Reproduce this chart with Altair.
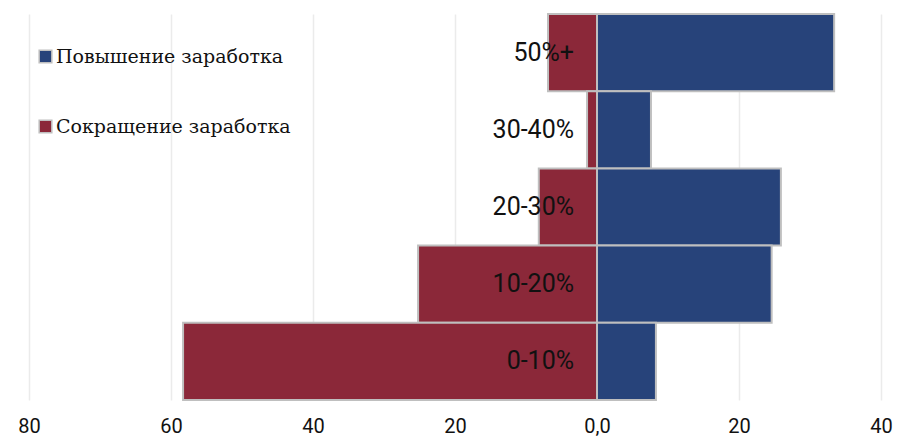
import altair as alt
import pandas as pd

categories = ["50%+", "30-40%", "20-30%", "10-20%", "0-10%"]
increase = [33.4, 7.6, 25.9, 24.6, 8.3]
decrease = [6.9, 1.4, 8.2, 25.2, 58.3]
series = ["Повышение заработка", "Сокращение заработка"]
colors = ["#27437A", "#8B2839"]

rows = []
for c, v in zip(categories, increase):
    rows.append({"cat": c, "series": series[0], "value": v})
for c, v in zip(categories, decrease):
    rows.append({"cat": c, "series": series[1], "value": -v})
df = pd.DataFrame(rows)
labels = pd.DataFrame({"cat": categories})

y_enc = alt.Y("cat:N", sort=categories, axis=None,
              scale=alt.Scale(paddingInner=0, paddingOuter=0))

bars = alt.Chart(df).mark_bar(stroke="#BFBFBF", strokeWidth=2).encode(
    x=alt.X("value:Q", stack=None,
            scale=alt.Scale(domain=[-80, 40], nice=False),
            axis=alt.Axis(values=[-80, -60, -40, -20, 0, 20, 40],
                          labelExpr="datum.value == 0 ? '0,0' : format(abs(datum.value), 'd')",
                          title=None, domain=False, ticks=False,
                          grid=True, gridColor="#EBEBEB", gridWidth=1.5,
                          labelFont="Roboto", labelFontSize=20, labelColor="#111111",
                          labelFlush=False, labelOverlap=False, labelBound=False,
                          labelPadding=16)),
    y=y_enc,
    color=alt.Color("series:N", scale=alt.Scale(domain=series, range=colors),
                    legend=alt.Legend(title=None, orient="none", legendX=7, legendY=33,
                                      symbolType="square", symbolSize=160,
                                      symbolStrokeColor="#BFBFBF", symbolStrokeWidth=1.5,
                                      symbolOpacity=1,
                                      labelFont="DejaVu Serif", labelFontSize=19,
                                      labelColor="#111111", labelOffset=1,
                                      rowPadding=50, labelLimit=400)),
)

text = alt.Chart(labels).mark_text(align="right", baseline="middle", dx=-23,
                                   font="Roboto", fontSize=25, color="#111111").encode(
    x=alt.datum(0),
    y=y_enc,
    text="cat:N",
)

chart = (bars + text).properties(
    width=852, height=386,
    padding={"left": 29, "top": 14, "right": 16, "bottom": 38},
    autosize=alt.AutoSizeParams(type="none"),
).configure_view(stroke=None)

chart.save("out.html", embed_options={"renderer": "svg", "actions": False})
